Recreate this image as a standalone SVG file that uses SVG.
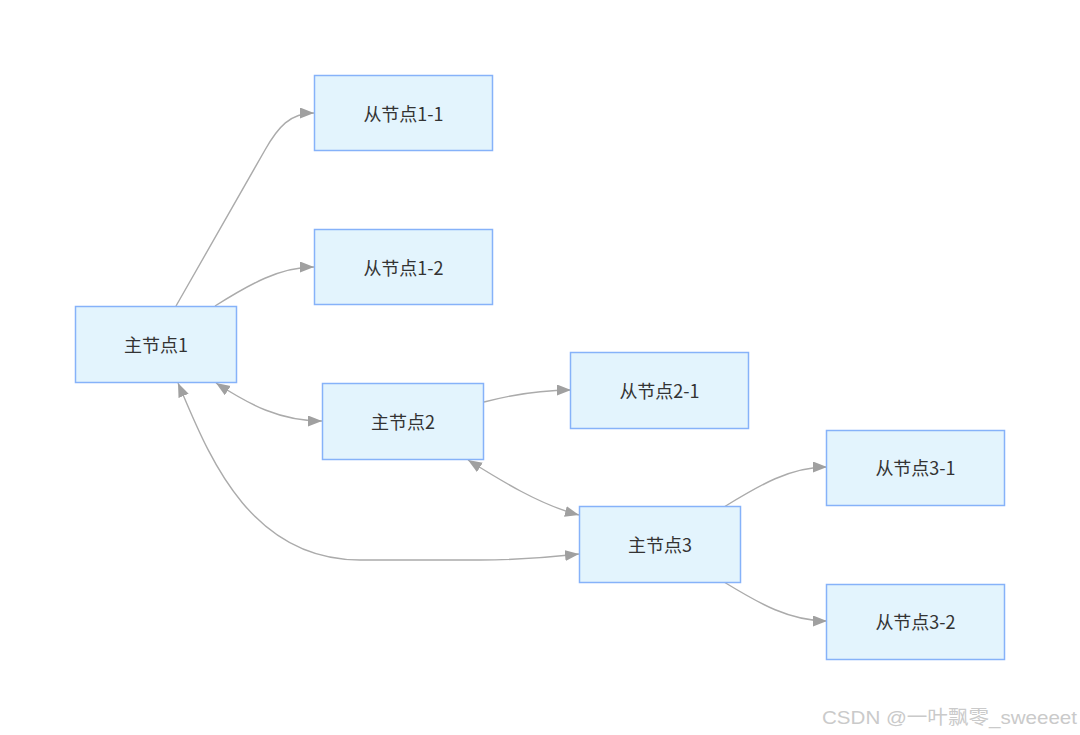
<svg xmlns="http://www.w3.org/2000/svg" width="1080" height="735" viewBox="0 0 1080 735">
<style>
.node rect{fill:#e3f4fd;stroke:#86b2f9;stroke-width:1.5}
.node text{font-family:"Noto Sans CJK SC","Noto Sans",sans-serif;font-size:18px;fill:#333;text-anchor:middle;dominant-baseline:central}
.edges path{fill:none;stroke:#ababab;stroke-width:1.4}
.wm{font-family:"Liberation Sans","Noto Sans CJK SC",sans-serif;font-size:19px;fill:#cacaca}
</style>
<defs>
<marker id="arr" markerUnits="userSpaceOnUse" markerWidth="15" markerHeight="12" refX="14" refY="5.5" orient="auto-start-reverse" viewBox="0 0 15 12">
<path d="M0,0 L14,5.5 L0,11 z" fill="#a0a0a0"/>
</marker>
</defs>
<rect width="1080" height="735" fill="#fff"/>
<g class="edges">
<path d="M176,306 L265,150 C278,127 290,113 314,113" marker-end="url(#arr)"/>
<path d="M215,306 C250,284 280,267 314,267" marker-end="url(#arr)"/>
<path d="M216,383 C250,405 280,421 322,421" marker-start="url(#arr)" marker-end="url(#arr)"/>
<path d="M484,402 C515,394 540,390 571,390" marker-end="url(#arr)"/>
<path d="M468,460 C500,480 540,505 579,515" marker-start="url(#arr)" marker-end="url(#arr)"/>
<path d="M178,383 C205,445 245,560 360,560 L480,560 C530,560 560,556 579,554" marker-start="url(#arr)" marker-end="url(#arr)"/>
<path d="M724,507 C760,485 790,467 827,467" marker-end="url(#arr)"/>
<path d="M724,582 C760,604 790,621 827,621" marker-end="url(#arr)"/>
</g>
<g id="m1" class="node"><rect x="75.5" y="306.5" width="161" height="76"/><text x="156" y="344">主节点1</text></g>
<g id="s11" class="node"><rect x="314.5" y="75.5" width="178" height="75"/><text x="403.5" y="112.5">从节点1-1</text></g>
<g id="s12" class="node"><rect x="314.5" y="229.5" width="178" height="75"/><text x="403.5" y="266.5">从节点1-2</text></g>
<g id="m2" class="node"><rect x="322.5" y="383.5" width="161" height="76"/><text x="403" y="420.5">主节点2</text></g>
<g id="s21" class="node"><rect x="570.5" y="352.5" width="178" height="76"/><text x="659.5" y="390">从节点2-1</text></g>
<g id="m3" class="node"><rect x="579.5" y="506.5" width="161" height="76"/><text x="660" y="544">主节点3</text></g>
<g id="s31" class="node"><rect x="826.5" y="430.5" width="178" height="75"/><text x="915.5" y="467">从节点3-1</text></g>
<g id="s32" class="node"><rect x="826.5" y="584.5" width="178" height="75"/><text x="915.5" y="621">从节点3-2</text></g>
<text class="wm" x="822" y="724" textLength="255" lengthAdjust="spacingAndGlyphs">CSDN @一叶飘零_sweeeet</text>
</svg>
